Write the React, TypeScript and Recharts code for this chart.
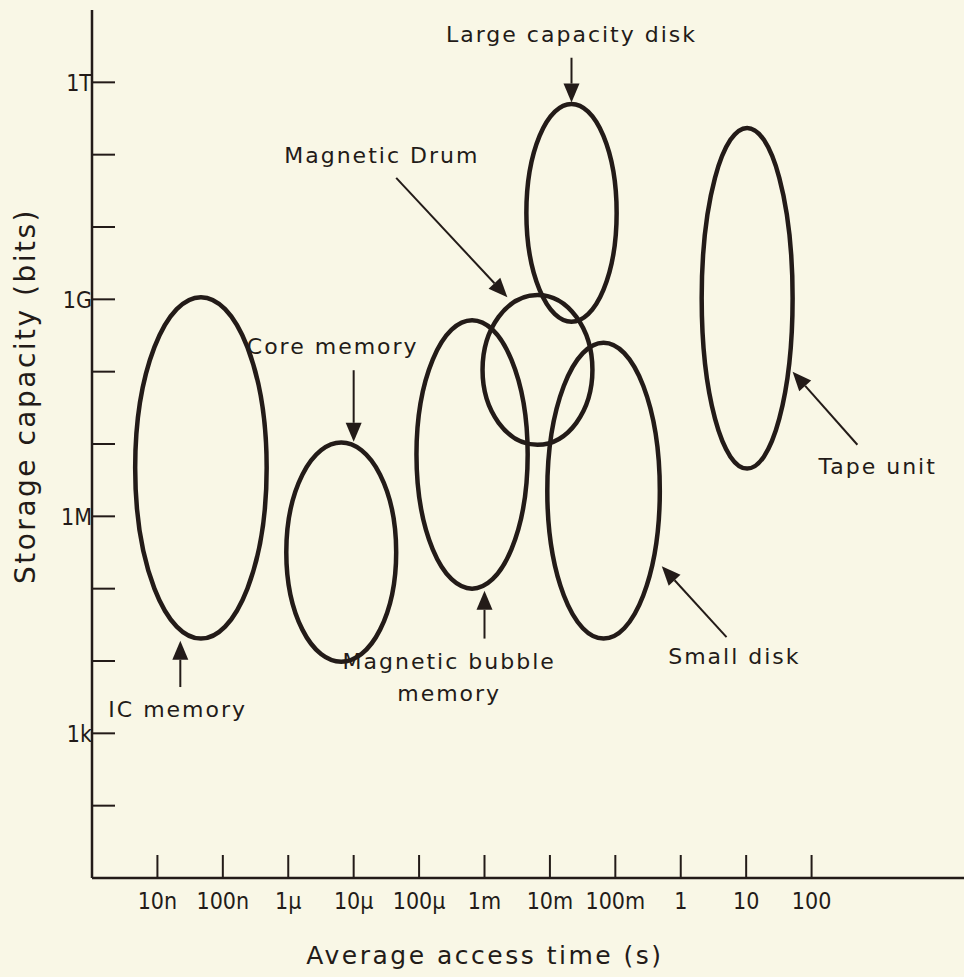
import React from 'react';
import {
  ComposedChart, XAxis, YAxis, ReferenceArea, ReferenceLine, ReferenceDot
} from 'recharts';

// all values are log10: access time in seconds, capacity in bits
const timeTicks = [-8, -7, -6, -5, -4, -3, -2, -1, 0, 1, 2];
const timeTickLabels = ['10n', '100n', '1\u00b5', '10\u00b5', '100\u00b5', '1m', '10m', '100m', '1', '10', '100'];
const capTicks = [2, 3, 4, 5, 6, 7, 8, 9, 10, 11, 12];
const capTickLabels = ['', '1k', '', '', '1M', '', '', '1G', '', '', '1T'];

// one ellipse per storage technology (its extent on both axes)
const techNames = ['IC memory', 'Core memory', 'Magnetic bubble memory', 'Magnetic Drum', 'Small disk', 'Large capacity disk', 'Tape unit'];
const timeMin = [-8.34, -6.03, -4.04, -3.03, -2.04, -2.36, 0.32];
const timeMax = [-6.33, -4.35, -2.34, -1.35, -0.32, -0.98, 1.71];
const capMin = [4.31, 3.99, 5.0, 6.99, 4.31, 8.69, 6.66];
const capMax = [9.03, 7.02, 8.71, 9.06, 8.4, 11.7, 11.37];

// callout text, and arrow from the text to its ellipse
const labelLines = [['IC memory'], ['Core memory'], ['Magnetic bubble', 'memory'], ['Magnetic Drum'], ['Small disk'], ['Large capacity disk'], ['Tape unit']];
const labelTime = [-7.69, -5.32, -3.54, -4.57, 0.82, -1.67, 3.01];
const labelCap = [3.34, 8.36, 3.78, 10.99, 4.07, 12.67, 6.7];
const arrowFrom = [[-7.65, 3.64], [-5.0, 8.02], [-3.0, 4.31], [-4.35, 10.68], [0.7, 4.33], [-1.67, 12.34], [2.7, 6.99]];
const arrowTo = [[-7.65, 4.28], [-5.0, 7.03], [-3.0, 4.97], [-2.65, 9.03], [-0.29, 5.31], [-1.67, 11.72], [1.71, 8.0]];

const INK = '#231b18';
const PAPER = '#f9f7e6';
const FONT = '"DejaVu Sans", "Liberation Sans", sans-serif';
const NARROW = '"Liberation Sans Narrow", "DejaVu Sans Condensed", "Liberation Sans", sans-serif';

const TimeTick = (props: any) => {
  const { x, y, payload } = props;
  const i = timeTicks.indexOf(payload.value);
  return (
    <g>
      <line x1={x} y1={y} x2={x} y2={y - 23} stroke={INK} strokeWidth={2} />
      <text x={x} y={y + 31} textAnchor="middle" fill={INK} fontFamily={NARROW} fontSize={23}>
        {timeTickLabels[i]}
      </text>
    </g>
  );
};

const CapTick = (props: any) => {
  const { x, y, payload } = props;
  const i = capTicks.indexOf(payload.value);
  return (
    <g>
      <line x1={x} y1={y} x2={x + 23} y2={y} stroke={INK} strokeWidth={2} />
      <text x={x} y={y} dy="0.36em" textAnchor="end" fill={INK} fontFamily={NARROW} fontSize={23}>
        {capTickLabels[i]}
      </text>
    </g>
  );
};

const ellipseShape = (props: any) => {
  const { x, y, width, height } = props;
  return (
    <ellipse cx={x + width / 2} cy={y + height / 2} rx={Math.abs(width) / 2} ry={Math.abs(height) / 2}
      fill="none" stroke={INK} strokeWidth={4.5} />
  );
};

const arrowShape = (props: any) => {
  const { x1, y1, x2, y2 } = props;
  const a = Math.atan2(y2 - y1, x2 - x1);
  const len = 19, half = 8;
  const bx = x2 - len * Math.cos(a), by = y2 - len * Math.sin(a);
  const px = -Math.sin(a) * half, py = Math.cos(a) * half;
  return (
    <g>
      <line x1={x1} y1={y1} x2={bx} y2={by} stroke={INK} strokeWidth={2} />
      <polygon points={`${x2},${y2} ${bx + px},${by + py} ${bx - px},${by - py}`} fill={INK} />
    </g>
  );
};

const labelShape = (lines: string[]) => (props: any) => {
  const { cx, cy } = props;
  const start = cy - ((lines.length - 1) * 32) / 2;
  return (
    <text textAnchor="middle" fill={INK} fontFamily={FONT} fontSize={22} letterSpacing={2}>
      {lines.map((l, k) => (
        <tspan key={k} x={cx} y={start + k * 32} dy="0.36em">{l}</tspan>
      ))}
    </text>
  );
};

export default function App() {
  return (
    <div style={{ position: 'relative', width: 964, height: 977, background: PAPER, overflow: 'hidden' }}>
      <style>{`body{margin:0;background:${PAPER}}`}</style>
      <ComposedChart width={964} height={977} margin={{ top: 10, right: 0, bottom: 0, left: 0 }}>
        <XAxis type="number" dataKey="t" domain={[-9, 4.33]} ticks={timeTicks} interval={0}
          allowDataOverflow height={99} tickSize={0} tickMargin={0} tickLine={false}
          axisLine={{ stroke: INK, strokeWidth: 2.5 }} tick={<TimeTick />} />
        <YAxis type="number" dataKey="c" domain={[1, 13]} ticks={capTicks} interval={0}
          allowDataOverflow width={92} tickSize={0} tickMargin={0} tickLine={false}
          axisLine={{ stroke: INK, strokeWidth: 2.5 }} tick={<CapTick />} />
        {techNames.map((n, i) => (
          <ReferenceArea key={n} x1={timeMin[i]} x2={timeMax[i]} y1={capMin[i]} y2={capMax[i]}
            ifOverflow="visible" shape={ellipseShape} />
        ))}
        {techNames.map((n, i) => (
          <ReferenceLine key={'a' + n} ifOverflow="visible"
            segment={[{ x: arrowFrom[i][0], y: arrowFrom[i][1] }, { x: arrowTo[i][0], y: arrowTo[i][1] }]}
            shape={arrowShape} />
        ))}
        {techNames.map((n, i) => (
          <ReferenceDot key={'l' + n} x={labelTime[i]} y={labelCap[i]} r={0} ifOverflow="visible"
            shape={labelShape(labelLines[i])} />
        ))}
      </ComposedChart>
      <div style={{
        position: 'absolute', left: 25, top: 396, transform: 'translate(-50%, -50%) rotate(-90deg)',
        whiteSpace: 'nowrap', fontFamily: FONT, fontSize: 28, letterSpacing: 2.5, color: INK
      }}>Storage capacity (bits)</div>
      <div style={{
        position: 'absolute', left: 485, top: 955, transform: 'translate(-50%, -50%)',
        whiteSpace: 'nowrap', fontFamily: FONT, fontSize: 25, letterSpacing: 2.5, color: INK
      }}>Average access time (s)</div>
    </div>
  );
}
